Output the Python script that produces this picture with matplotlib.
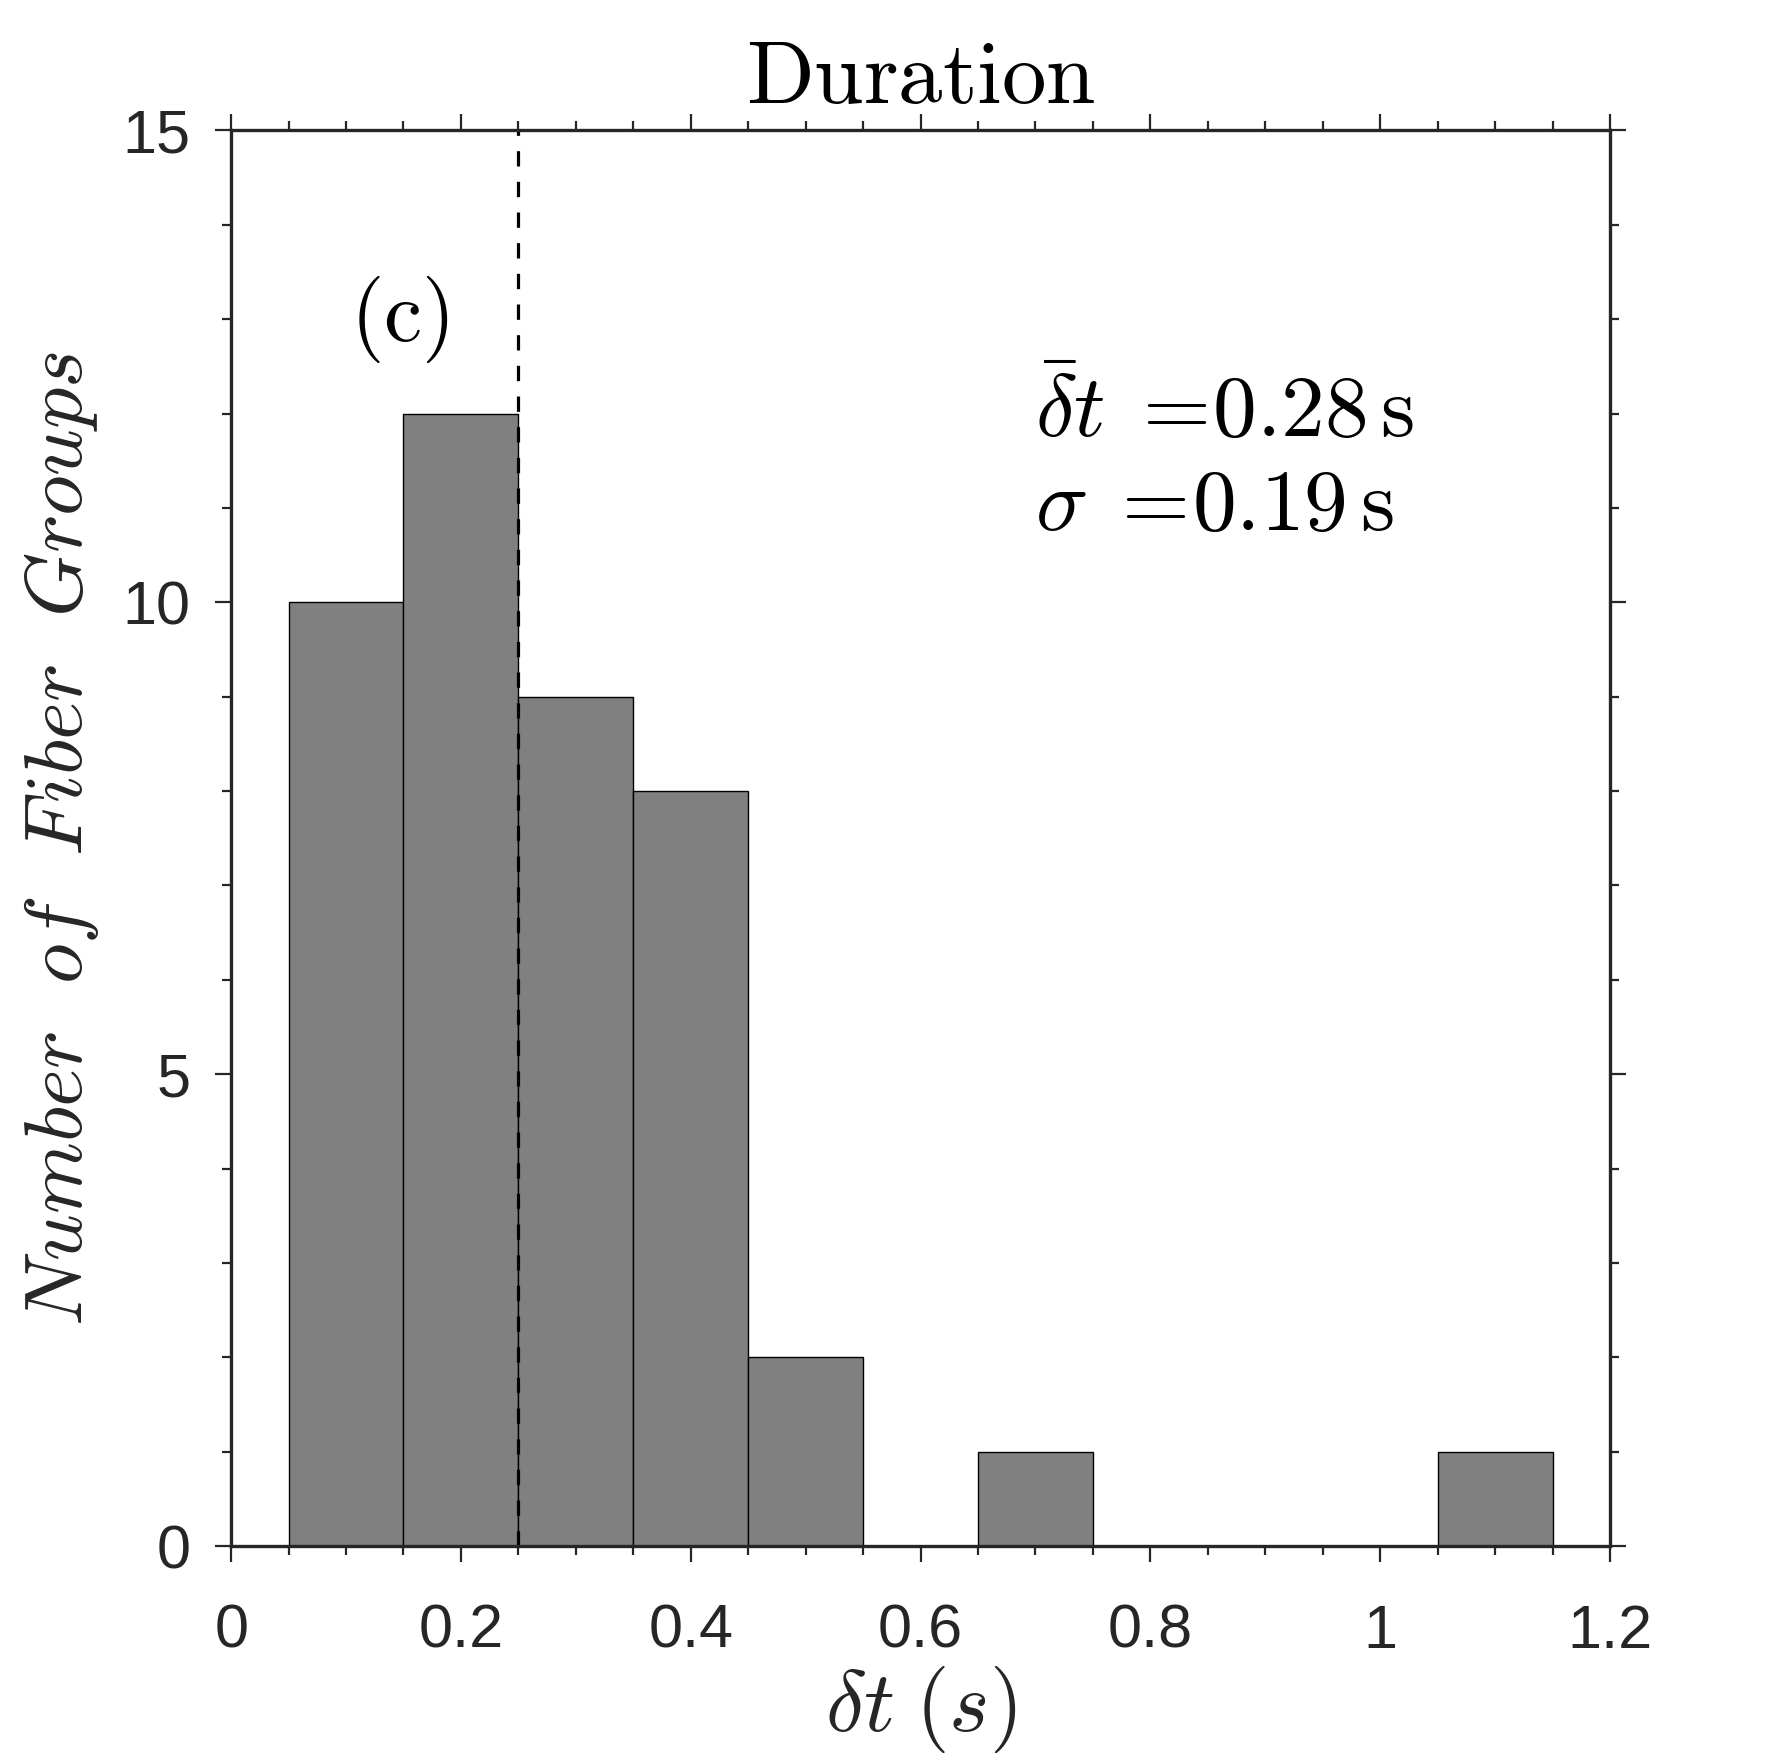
import numpy as np
import matplotlib
matplotlib.use("Agg")
import matplotlib.pyplot as plt
from matplotlib.ticker import MultipleLocator

plt.rcParams['mathtext.fontset'] = 'cm'
plt.rcParams['font.family'] = ['Liberation Sans', 'DejaVu Sans']

# histogram of durations (bin width 0.1 s)
bin_centers = [0.1, 0.2, 0.3, 0.4, 0.5, 0.6, 0.7, 0.8, 0.9, 1.0, 1.1]
counts = [10, 12, 9, 8, 2, 0, 1, 0, 0, 0, 1]
bin_width = 0.1
median_line = 0.25
mean_dt = 0.28
std_dt = 0.19

axc = '#262626'

fig = plt.figure(figsize=(17.78, 17.63), dpi=100)
ax = fig.add_axes([0.130, 0.123, 0.7755, 0.803])

ax.bar(bin_centers, counts, width=bin_width, color='#808080',
       edgecolor='black', linewidth=1.0, zorder=2)
ax.axvline(median_line, color='black', linestyle='--', dashes=(4.8, 4.8),
           linewidth=2.3, zorder=3)

ax.set_xlim(0, 1.2)
ax.set_ylim(0, 15)
ax.set_xticks([0, 0.2, 0.4, 0.6, 0.8, 1.0, 1.2])
ax.set_xticklabels(['0', '0.2', '0.4', '0.6', '0.8', '1', '1.2'])
ax.set_yticks([0, 5, 10, 15])
ax.xaxis.set_minor_locator(MultipleLocator(0.05))
ax.yaxis.set_minor_locator(MultipleLocator(1))

for s in ax.spines.values():
    s.set_linewidth(2.4)
    s.set_color(axc)
    s.set_zorder(4)

ax.tick_params(which='both', direction='out', top=True, right=True,
               color=axc, width=1.6, labelcolor=axc)
ax.tick_params(which='major', length=11.5, labelsize=44)
ax.tick_params(which='minor', length=6.5)
ax.tick_params(axis='x', which='major', pad=30)
ax.tick_params(axis='y', which='major', pad=18)

ax.set_title(r'$\mathrm{Duration}$', fontsize=64, pad=20, color='black')
ax.set_xlabel(r'$\delta t\;(s)$', fontsize=62, labelpad=2, color=axc)
ax.set_ylabel(r'$Number\ \ of\ \ Fiber\ \ Groups$', fontsize=59,
              labelpad=15, color=axc)

ax.text(0.146, 13.0, r'$\mathrm{(c)}$', fontsize=62, ha='center',
        va='center', color='black')
ax.text(0.70, 12.0, r'$\bar{\delta}t\;=\!%.2f\,\mathrm{s}$' % mean_dt,
        fontsize=63, ha='left', va='center', color='black')
ax.text(0.70, 11.0, r'$\sigma\;=\!%.2f\,\mathrm{s}$' % std_dt,
        fontsize=63, ha='left', va='center', color='black')

fig.savefig('out.png', dpi=100)
